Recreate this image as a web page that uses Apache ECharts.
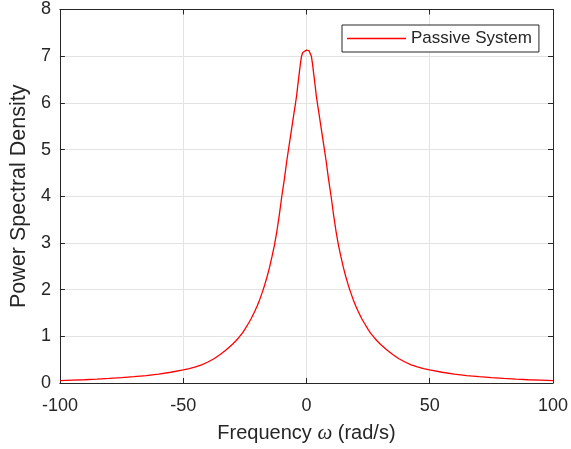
<!DOCTYPE html>
<html>
<head>
<meta charset="utf-8">
<script src="https://cdn.jsdelivr.net/npm/echarts@6/dist/echarts.min.js"></script>
<style>
html,body{margin:0;padding:0;background:#fff;}
#chart{width:571px;height:449px;}
</style>
</head>
<body>
<div id="chart"></div>
<script>
// Data
var omega = [-100,-95,-90,-85,-80,-75,-70,-65,-60,-55,-50,-47.5,-45,-42.5,-40,-37.5,-35,-32.5,-30,-28.5,-27.5,-26,-25,-23.5,-22.5,-21,-20,-19,-18,-17,-16,-15,-14,-13,-12,-11,-10,-9,-8,-7,-6,-5,-4.5,-4,-3.5,-3,-2.5,-2,-1.5,-1,0,1,1.5,2,2.5,3,3.5,4,4.5,5,6,7,8,9,10,11,12,13,14,15,16,17,18,19,20,21,22.5,23.5,25,26,27.5,28.5,30,32.5,35,37.5,40,42.5,45,47.5,50,55,60,65,70,75,80,85,90,95,100];
var psd = [0.05,0.06,0.07,0.082,0.097,0.115,0.135,0.16,0.19,0.23,0.28,0.31,0.345,0.39,0.45,0.52,0.61,0.71,0.83,0.91,0.97,1.07,1.15,1.28,1.37,1.53,1.65,1.78,1.93,2.09,2.27,2.47,2.70,2.95,3.25,3.60,4.00,4.35,4.75,5.10,5.45,5.80,5.97,6.15,6.38,6.60,6.82,7.00,7.08,7.12,7.13,7.12,7.08,7.00,6.82,6.60,6.38,6.15,5.97,5.80,5.45,5.10,4.75,4.35,4.00,3.60,3.25,2.95,2.70,2.47,2.27,2.09,1.93,1.78,1.65,1.53,1.37,1.28,1.15,1.07,0.97,0.91,0.83,0.71,0.61,0.52,0.45,0.39,0.345,0.31,0.28,0.23,0.19,0.16,0.135,0.115,0.097,0.082,0.07,0.06,0.05];
var xTicks = [-100,-50,0,50,100];
var yTicks = [0,1,2,3,4,5,6,7,8];
var seriesName = 'Passive System';

var axisColor = '#262626';
var gridColor = '#e3e3e3';
var font = '"Liberation Sans", Arial, sans-serif';

var chart = echarts.init(document.getElementById('chart'), null, {renderer:'canvas'});
var pts = omega.map(function(w,i){return [w, psd[i]];});

chart.setOption({
  animation:false,
  backgroundColor:'#fff',
  grid:{left:58, right:16, top:9.5, bottom:66, containLabel:false},
  legend:{
    data:[{name:seriesName, icon:'rect'}], left:342, top:25,
    padding:[5,7,5,5], itemWidth:59, itemHeight:1.4, itemGap:5,
    itemStyle:{color:'#ff0000', borderWidth:0},
    borderColor:axisColor, borderWidth:1, backgroundColor:'#fff', borderRadius:0,
    textStyle:{fontFamily:font, fontSize:17, color:axisColor, lineHeight:17, padding:[0,0,0,0]}
  },
  xAxis:[{
    type:'value', min:xTicks[0], max:xTicks[xTicks.length-1], interval:50,
    position:'bottom',
    name:'{t|Frequency }{w|\u03c9}{t| (rad/s)}', nameLocation:'middle', nameGap:40,
    nameTextStyle:{rich:{t:{fontFamily:font,fontSize:20,color:axisColor},w:{fontFamily:'"Liberation Serif", serif',fontStyle:'italic',fontSize:21,color:axisColor}}},
    axisLine:{show:true,onZero:false,lineStyle:{color:axisColor,width:1}},
    axisTick:{show:true,inside:true,length:5,lineStyle:{color:axisColor}},
    axisLabel:{fontFamily:font,fontSize:18,color:axisColor,margin:14},
    splitLine:{show:true,lineStyle:{color:gridColor,width:1}}
  },{
    type:'value', min:xTicks[0], max:xTicks[xTicks.length-1], interval:50,
    position:'top',
    axisLine:{show:true,onZero:false,lineStyle:{color:axisColor,width:1}},
    axisTick:{show:true,inside:true,length:5,lineStyle:{color:axisColor}},
    axisLabel:{show:false}, splitLine:{show:false}
  }],
  yAxis:[{
    type:'value', min:yTicks[0], max:yTicks[yTicks.length-1], interval:1,
    position:'left',
    name:'Power Spectral Density', nameLocation:'middle', nameGap:24,
    nameTextStyle:{fontFamily:font,fontSize:21.5,color:axisColor},
    axisLine:{show:true,onZero:false,lineStyle:{color:axisColor,width:1}},
    axisTick:{show:true,inside:true,length:5,lineStyle:{color:axisColor}},
    axisLabel:{fontFamily:font,fontSize:18,color:axisColor,margin:9,padding:[6,0,0,0]},
    splitLine:{show:true,lineStyle:{color:gridColor,width:1}}
  },{
    type:'value', min:yTicks[0], max:yTicks[yTicks.length-1], interval:1,
    position:'right',
    axisLine:{show:true,onZero:false,lineStyle:{color:axisColor,width:1}},
    axisTick:{show:true,inside:true,length:5,lineStyle:{color:axisColor}},
    axisLabel:{show:false}, splitLine:{show:false}
  }],
  series:[{
    name:seriesName, type:'line', xAxisIndex:0, yAxisIndex:0,
    data:pts, symbol:'none', smooth:false,
    lineStyle:{color:'#ff0000',width:1.3}, itemStyle:{color:'#ff0000'}
  }]
});
</script>
</body>
</html>
